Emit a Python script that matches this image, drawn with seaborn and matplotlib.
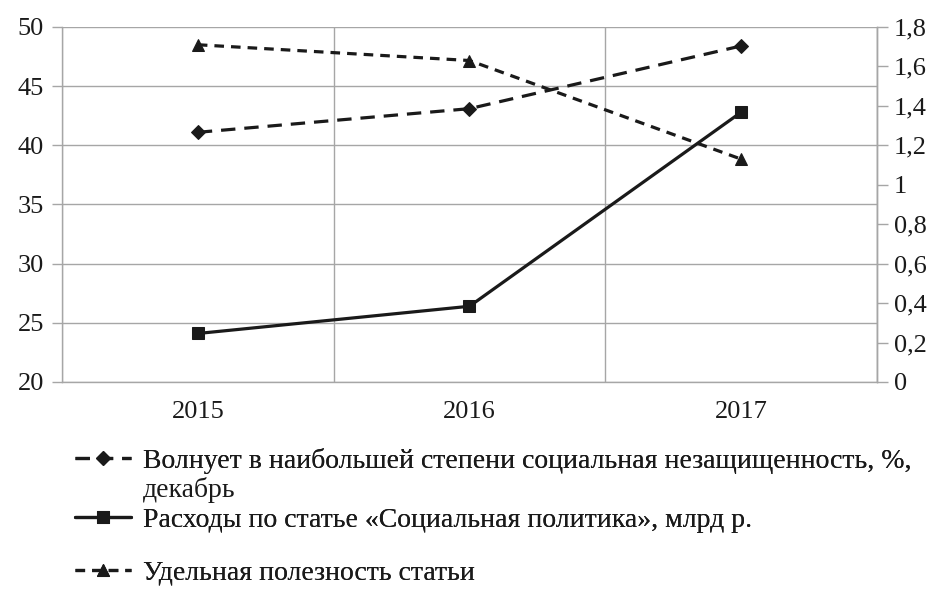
import matplotlib
matplotlib.use("Agg")
import matplotlib.pyplot as plt
import matplotlib.ticker as mticker
import pandas as pd
import seaborn as sns

# data
years = ["2015", "2016", "2017"]
worry_pct = [41.1, 43.1, 48.4]          # left axis
spending_bn = [24.1, 26.4, 42.8]        # left axis
usefulness = [1.71, 1.63, 1.13]         # right axis

label_worry = "Волнует в наибольшей степени социальная незащищенность, %,"
label_worry_2 = "декабрь"
label_spend = "Расходы по статье «Социальная политика», млрд р."
label_useful = "Удельная полезность статьи"

df = pd.DataFrame({"year": years, "worry": worry_pct,
                   "spend": spending_bn, "useful": usefulness})

sns.set_style("white")
plt.rcParams["font.family"] = ["Liberation Serif", "DejaVu Serif"]
FS = 19
LFS = 20
grid_c = "#a6a6a6"
ink = "#1a1a1a"

fig = plt.figure(figsize=(9.34, 6.10), dpi=100)
ax = fig.add_axes([62/934, 1-382/610, 815/934, 355/610])
ax2 = ax.twinx()

sns.lineplot(data=df, x="year", y="worry", ax=ax, color=ink, lw=2.3,
             marker="D", markersize=7, markeredgecolor=ink,
             linestyle=(0, (4.5, 2.8)))
sns.lineplot(data=df, x="year", y="spend", ax=ax, color=ink, lw=2.3,
             marker="s", markersize=8, markeredgecolor=ink)
sns.lineplot(data=df, x="year", y="useful", ax=ax2, color=ink, lw=2.3,
             marker="^", markersize=8, markeredgecolor=ink,
             linestyle=(0, (3, 2.2)))

ax.set_xlim(-0.5, 2.5)
ax.set_ylim(20, 50)
ax.set_yticks(range(20, 51, 5))
ax2.set_ylim(0, 1.8)
ax2.set_yticks([0, 0.2, 0.4, 0.6, 0.8, 1.0, 1.2, 1.4, 1.6, 1.8])
ax2.yaxis.set_major_formatter(mticker.FuncFormatter(
    lambda v, p: ("%g" % round(v, 1)).replace(".", ",")))

ax.set_xticks([0, 1, 2])
ax.set_xticklabels(years)
ax.set_xticks([-0.5, 0.5, 1.5, 2.5], minor=True)
ax.tick_params(axis="x", which="major", length=0, pad=14, labelsize=FS, colors=ink)
ax.tick_params(axis="x", which="minor", length=7, width=1, color=grid_c)
ax.tick_params(axis="y", length=7, width=1, color=grid_c, pad=6, labelsize=FS, labelcolor=ink)
ax2.tick_params(axis="y", length=8, width=1, color=grid_c, pad=4, labelsize=FS, labelcolor=ink)

ax.grid(False)
ax2.grid(False)
ax.yaxis.grid(True, color=grid_c, lw=1)
ax.xaxis.grid(True, which="minor", color=grid_c, lw=1)
ax.set_xlabel("")
ax.set_ylabel("")
ax2.set_ylabel("")
for a in (ax, ax2):
    a.spines["top"].set_visible(False)
    for s in ("left", "right", "bottom"):
        a.spines[s].set_color(grid_c)
        a.spines[s].set_linewidth(1)
ax2.spines["left"].set_visible(False)
ax2.spines["bottom"].set_visible(False)

# legend entries below the chart
h_worry = ax.get_lines()[0]
h_spend = ax.get_lines()[1]
h_useful = ax2.get_lines()[0]
leg_kw = dict(frameon=False, loc="center left", borderpad=0, borderaxespad=0,
              handlelength=2.0, handletextpad=0.45, fontsize=LFS, labelcolor=ink)
for h, lab, y in [(h_worry, label_worry, 1-461/610),
                  (h_spend, label_spend, 1-520/610),
                  (h_useful, label_useful, 1-573/610)]:
    fig.add_artist(fig.legend([h], [lab], bbox_to_anchor=(75/934, y), **leg_kw))
fig.text(143/934, 1-490/610, label_worry_2, fontsize=LFS, color=ink, va="center")

fig.savefig("out.png", dpi=100)
